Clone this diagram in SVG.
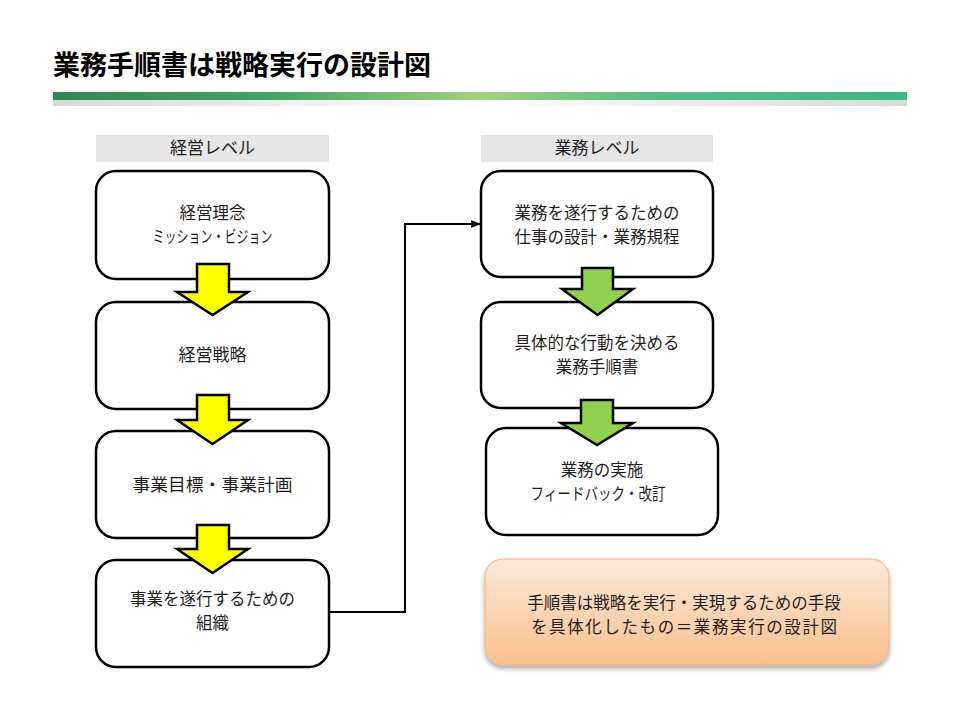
<svg xmlns="http://www.w3.org/2000/svg" width="960" height="720" viewBox="0 0 960 720">
<defs>
<style>
.t{font-family:"Noto Sans CJK JP","Noto Sans CJK SC",sans-serif;font-size:17px;fill:#1e1e1e;text-anchor:middle}
.t2{font-size:16.5px}
.title{font-family:"Noto Sans CJK JP","Noto Sans CJK SC",sans-serif;font-size:27px;font-weight:bold;fill:#000}
.box{fill:#fff;stroke:#000;stroke-width:2.5}
.hdr{fill:#e6e6e6}
.ya{fill:#ffff00;stroke:#000;stroke-width:2.5;stroke-linejoin:miter}
.ga{fill:#92d050;stroke:#000;stroke-width:2.5;stroke-linejoin:miter}
.conn{fill:none;stroke:#000;stroke-width:2}
</style>
<linearGradient id="bar" x1="0" y1="0" x2="1" y2="0">
<stop offset="0" stop-color="#2f8655"/>
<stop offset="0.25" stop-color="#3ea466"/>
<stop offset="0.5" stop-color="#a3d17d"/>
<stop offset="0.7" stop-color="#55bd88"/>
<stop offset="1" stop-color="#3cb883"/>
</linearGradient>
<linearGradient id="bar2" x1="0" y1="0" x2="1" y2="0">
<stop offset="0" stop-color="#d9d9d9"/>
<stop offset="0.5" stop-color="#ffffff"/>
<stop offset="1" stop-color="#d9d9d9"/>
</linearGradient>
<linearGradient id="org" x1="0" y1="0" x2="0" y2="1">
<stop offset="0" stop-color="#fde9d9"/>
<stop offset="1" stop-color="#fabf8e"/>
</linearGradient>
<filter id="sh" x="-10%" y="-10%" width="120%" height="130%">
<feGaussianBlur in="SourceAlpha" stdDeviation="2.5"/>
<feOffset dx="0" dy="3"/>
<feComponentTransfer><feFuncA type="linear" slope="0.35"/></feComponentTransfer>
<feMerge><feMergeNode/><feMergeNode in="SourceGraphic"/></feMerge>
</filter>
<marker id="ah" markerWidth="10" markerHeight="8" refX="9" refY="4" orient="auto" markerUnits="userSpaceOnUse">
<path d="M0,0 L10,4 L0,8 Z" fill="#000"/>
</marker>
</defs>
<rect width="960" height="720" fill="#fff"/>

<g id="header">
<text class="title" x="53" y="75">業務手順書は戦略実行の設計図</text>
<rect x="53" y="92" width="854" height="8" fill="url(#bar)"/>
<rect x="53" y="100" width="854" height="6" fill="url(#bar2)"/>
</g>

<g id="hdr-left">
<rect class="hdr" x="96" y="135" width="233" height="27"/>
<text class="t" x="212.5" y="154">経営レベル</text>
</g>
<g id="hdr-right">
<rect class="hdr" x="481" y="135" width="232" height="27"/>
<text class="t" x="597" y="154">業務レベル</text>
</g>

<g id="connectors">
<polyline class="conn" points="329,612 405,612 405,224 480,224" marker-end="url(#ah)"/>
</g>

<g id="node-l1">
<rect class="box" x="96" y="171" width="233" height="108" rx="20"/>
<text class="t t2" x="212.5" y="219">経営理念</text>
<text class="t t2" x="212.5" y="243" textLength="120" lengthAdjust="spacingAndGlyphs">ミッション・ビジョン</text>
</g>
<g id="node-l2">
<rect class="box" x="96" y="302" width="233" height="107" rx="20"/>
<text class="t" x="212.5" y="361">経営戦略</text>
</g>
<g id="node-l3">
<rect class="box" x="96" y="431" width="233" height="107" rx="20"/>
<text class="t" x="212.5" y="491" textLength="160" lengthAdjust="spacingAndGlyphs">事業目標・事業計画</text>
</g>
<g id="node-l4">
<rect class="box" x="96" y="560" width="233" height="107" rx="20"/>
<text class="t t2" x="212.5" y="605">事業を遂行するための</text>
<text class="t t2" x="212.5" y="629">組織</text>
</g>

<g id="node-r1">
<rect class="box" x="481" y="171" width="232" height="106" rx="20"/>
<text class="t t2" x="597" y="219">業務を遂行するための</text>
<text class="t t2" x="597" y="243">仕事の設計・業務規程</text>
</g>
<g id="node-r2">
<rect class="box" x="481" y="302" width="232" height="106" rx="20"/>
<text class="t t2" x="597" y="349">具体的な行動を決める</text>
<text class="t t2" x="597" y="373">業務手順書</text>
</g>
<g id="node-r3">
<rect class="box" x="486" y="428" width="232" height="107" rx="20"/>
<text class="t t2" x="602" y="476">業務の実施</text>
<text class="t t2" x="598" y="500" textLength="135" lengthAdjust="spacingAndGlyphs">フィードバック・改訂</text>
</g>

<g id="arrows">
<polygon class="ya" points="197,264 229,264 229,292 248,292 212.5,315 177,292 197,292"/>
<polygon class="ya" points="197,395 229,395 229,420 248,420 212.5,444 177,420 197,420"/>
<polygon class="ya" points="197,525 229,525 229,549 248,549 212.5,573 177,549 197,549"/>
<polygon class="ga" points="582,268 613,268 613,289 633,289 597.5,315 562,289 582,289"/>
<polygon class="ga" points="581,400 613,400 613,423 633,423 597,445 561,423 581,423"/>
</g>

<g id="node-note">
<rect x="485" y="559" width="404" height="106" rx="18" fill="url(#org)" stroke="#f5b27f" stroke-width="1" filter="url(#sh)"/>
<text class="t t2" x="684" y="609">手順書は戦略を実行・実現するための手段</text>
<text class="t t2" x="684" y="633" textLength="306" lengthAdjust="spacing">を具体化したもの＝業務実行の設計図</text>
</g>
</svg>
